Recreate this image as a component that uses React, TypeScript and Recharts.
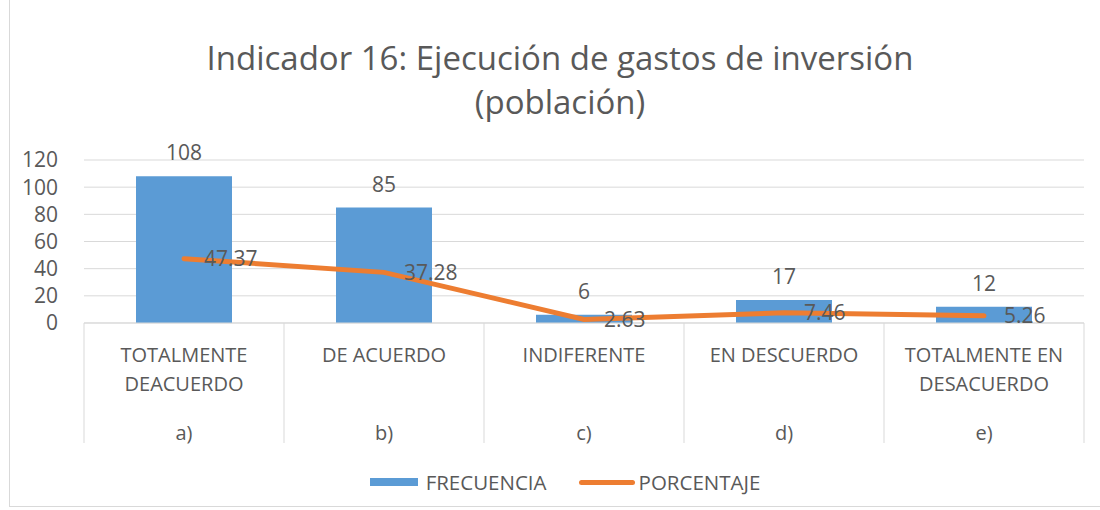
import React from 'react';
import {
  ComposedChart, Bar, Line, XAxis, YAxis, CartesianGrid, LabelList
} from 'recharts';

const categories = ['TOTALMENTE\nDEACUERDO', 'DE ACUERDO', 'INDIFERENTE', 'EN DESCUERDO', 'TOTALMENTE EN\nDESACUERDO'];
const groups = ['a)', 'b)', 'c)', 'd)', 'e)'];
const frecuencia = [108, 85, 6, 17, 12];
const porcentaje = [47.37, 37.28, 2.63, 7.46, 5.26];
const yTicks = [0, 20, 40, 60, 80, 100, 120];

const FONT = '"Open Sans", Calibri, sans-serif';
const TEXT = '#595959';
const GRID = '#d9d9d9';

const rows = categories.map((c, i) => ({
  cat: c, group: groups[i], FRECUENCIA: frecuencia[i], PORCENTAJE: porcentaje[i]
}));

function CatTick(props: any) {
  const { x, y, payload, index } = props;
  const half = payload?.offset || 100;
  const lines = String(payload.value).split('\n');
  return (
    <g>
      <line x1={x - half} y1={y - 8} x2={x - half} y2={y + 112} stroke={GRID} />
      {index === categories.length - 1 &&
        <line x1={x + half} y1={y - 8} x2={x + half} y2={y + 112} stroke={GRID} />}
      {lines.map((l, i) => (
        <text key={i} x={x} y={y + 31 + i * 29} textAnchor="middle" fill={TEXT}
          fontSize={20} fontFamily={FONT}>{l}</text>
      ))}
      <text x={x} y={y + 109} textAnchor="middle" fill={TEXT} fontSize={20} fontFamily={FONT}>
        {groups[index]}
      </text>
    </g>
  );
}

export default function App() {
  return (
    <div style={{ position: 'absolute', left: 0, top: 0, width: 1100, height: 510, background: '#fff', overflow: 'hidden' }}>
      <div style={{ position: 'absolute', left: 9, top: -1, width: 1100, height: 506, border: `1px solid ${GRID}` }} />
      <div style={{
        position: 'absolute', left: 10, top: 36, width: 1100, textAlign: 'center',
        fontFamily: FONT, fontSize: 33, color: TEXT, lineHeight: '44px'
      }}>
        Indicador 16: Ejecución de gastos de inversión<br />(población)
      </div>
      <div style={{ position: 'absolute', left: 0, top: 0 }}>
        <ComposedChart width={1100} height={510} data={rows}
          margin={{ top: 160, right: 16, bottom: 67, left: 0 }} barCategoryGap="26%">
          <CartesianGrid vertical={false} stroke={GRID} />
          <XAxis dataKey="cat" interval={0} height={120} tickLine={false}
            axisLine={{ stroke: GRID }} tick={<CatTick />} />
          <YAxis domain={[0, 120]} ticks={yTicks} interval={0} width={84} axisLine={false} tickLine={false}
            tick={{ fill: TEXT, fontSize: 21, fontFamily: FONT }} tickMargin={20} />
          <Bar dataKey="FRECUENCIA" fill="#5B9BD5" isAnimationActive={false}>
            <LabelList dataKey="FRECUENCIA" position="top" offset={16}
              fill={TEXT} fontSize={21} fontFamily={FONT} />
          </Bar>
          <Line dataKey="PORCENTAJE" stroke="#ED7D31" strokeWidth={5} strokeLinecap="round"
            dot={false} activeDot={false} isAnimationActive={false}>
            <LabelList dataKey="PORCENTAJE" position="right" offset={20}
              fill={TEXT} fontSize={21} fontFamily={FONT} />
          </Line>
        </ComposedChart>
      </div>
      <div style={{
        position: 'absolute', left: 15, top: 468, width: 1100, display: 'flex', justifyContent: 'center',
        alignItems: 'center', fontFamily: FONT, fontSize: 20.5, color: TEXT, lineHeight: '28px'
      }}>
        <span style={{ display: 'inline-block', width: 48, height: 8, background: '#5B9BD5', marginRight: 8 }} />
        <span style={{ marginRight: 32 }}>FRECUENCIA</span>
        <span style={{ display: 'inline-block', width: 56, height: 5, borderRadius: 3, background: '#ED7D31', marginRight: 4 }} />
        <span>PORCENTAJE</span>
      </div>
    </div>
  );
}
